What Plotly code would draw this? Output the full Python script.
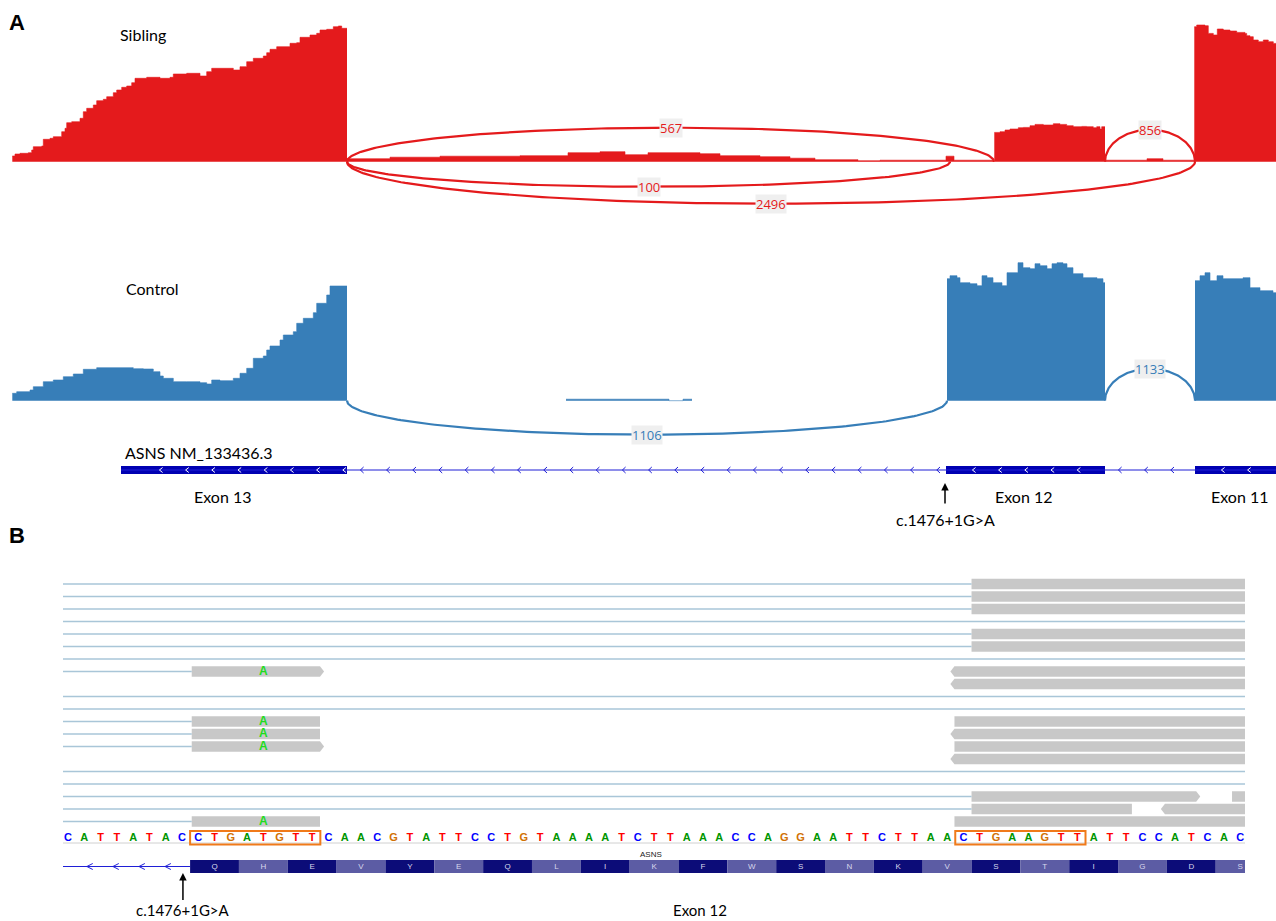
import numpy as np
import plotly.graph_objects as go

# ---------------------------------------------------------------
# Panel A: sashimi plot (track coordinate, 1 unit per screen column)
# ---------------------------------------------------------------
EXON_STARTS = [121, 946, 1195]          # exon 13, exon 12, exon 11
EXON_ENDS = [347, 1105, 1276]
EXON_NAMES = ["Exon 13", "Exon 12", "Exon 11"]
EXON_LABEL_POS = [223, 1024, 1240]
VARIANT_POS = 945
VARIANT_LABEL = "c.1476+1G>A"
GENE_LABEL = "ASNS NM_133436.3"

# Sibling coverage (depth, arbitrary units)
SIB_EX13_POS = [12.3, 15, 20, 28.3, 31.7, 33.3, 41.7, 43.3, 50, 53.3, 61.7, 65, 66.7, 71.7, 80, 83.3,
                86.7, 93.3, 96.7, 103.3, 106.7, 113.3, 116.7, 121.7, 126.7, 131.7, 135, 146.7, 160, 170,
                173.3, 186.7, 200, 206.7, 211.7, 226.7, 233.3, 240, 246.7, 253.3, 263.3, 266.7, 270,
                276.7, 290, 296.7, 300, 310, 316.7, 320, 326.7, 333.3, 338.3, 341.7]
SIB_EX13_DEPTH = [5.7, 7.7, 8.4, 9, 11.7, 15, 15.7, 22.4, 23.4, 25, 30, 33.4, 39, 40, 43.4, 50,
                  53.4, 56.7, 61, 62.4, 65, 69, 71.7, 74.4, 75.7, 79, 83.4, 84.4, 83.4, 84.4,
                  87.7, 88.4, 85.7, 90, 93.4, 93.4, 91.7, 95, 100, 103.4, 105.7, 109, 112.4,
                  115, 118.4, 119, 124.4, 126.7, 128.4, 131.7, 132.4, 135, 135.7, 133.4]
SIB_INTRON_POS = [347, 390, 440, 520, 568, 600, 625, 648, 700, 720, 760, 790, 815, 858, 880, 946, 954]
SIB_INTRON_DEPTH = [3, 4.5, 5.5, 6, 9, 10, 7, 9, 8, 6, 5, 3.5, 2, 1, 1.5, 5.5, 1.5]
SIB_EX12_POS = [994.3, 1000, 1005, 1010, 1018.3, 1023.3, 1030, 1035, 1043.3, 1053.3, 1060, 1066.7,
                1073.3, 1081.7, 1086.7, 1093.3, 1096.7, 1100, 1101.7]
SIB_EX12_DEPTH = [29.3, 30, 31.7, 32.7, 34, 34.3, 36, 37.3, 36.7, 38, 37.3, 36, 35, 35.3, 35, 34, 35,
                  32.7, 35]
SIB_INTRON2_POS = [1105, 1147, 1163]
SIB_INTRON2_DEPTH = [1.5, 3, 1.5]
SIB_EX11_POS = [1194.3, 1196.7, 1205, 1208.3, 1213.3, 1217.3, 1223.3, 1230, 1236.7, 1245, 1246.7,
                1250, 1253.3, 1258.3, 1263.3, 1268.3, 1273.3]
SIB_EX11_DEPTH = [135, 136.7, 136, 128.3, 126.7, 132.7, 131.7, 130.7, 129.3, 128.3, 126, 125, 121.7,
                  120, 121.7, 120, 118.3]

# Control coverage
CTRL_EX13_POS = [12.3, 16.7, 30, 33.3, 43.3, 53.3, 63.3, 73.3, 83.3, 96.7, 120, 133.3, 143.3, 153.3,
                 160, 163.3, 173.3, 186.7, 200, 206.7, 211.7, 220, 233.3, 240, 246.7, 253.3, 263.3,
                 266.7, 270, 280, 283.3, 293.3, 296.7, 303.3, 313.3, 316.7, 326.7, 330]
CTRL_EX13_DEPTH = [7.4, 9, 10.7, 14, 19, 20.7, 24, 26.7, 31.4, 33, 33, 32, 31.7, 29,
                   24.7, 22.4, 19, 19, 18, 16.7, 20.7, 20, 22.4, 27.4, 32.4, 42.4, 44.7,
                   50.7, 54.7, 60.7, 65.7, 69, 77.4, 82.4, 88, 97.4, 105.7, 114.7]
CTRL_INTRON_POS = [566, 669, 683]
CTRL_INTRON_DEPTH = [1.5, 0, 1.5]
CTRL_EX12_POS = [947, 950, 957, 960, 970, 977, 982, 987, 993, 1002, 1007, 1013, 1018, 1023, 1030,
                 1035, 1040, 1047, 1052, 1057, 1063, 1067, 1073, 1083, 1097, 1103]
CTRL_EX12_DEPTH = [122, 125, 123, 118, 117, 115, 125, 123, 118, 115, 128, 128, 138, 133, 132,
                   137, 135, 132, 137, 138, 137, 133, 127, 123, 122, 118]
CTRL_EX11_POS = [1195, 1200, 1205, 1210, 1217, 1223, 1230, 1243, 1250, 1260, 1273]
CTRL_EX11_DEPTH = [120, 125, 128, 120, 125, 122, 122, 123, 113, 110, 108]

# Splice junctions: start, end, supporting reads
SIB_JUNC_START = [347, 347, 347, 1105]
SIB_JUNC_END = [994, 950, 1195, 1195]
SIB_JUNC_COUNT = [567, 100, 2496, 856]
CTRL_JUNC_START = [347, 1105]
CTRL_JUNC_END = [947, 1195]
CTRL_JUNC_COUNT = [1106, 1133]

# ---------------------------------------------------------------
# Panel B: read alignments (base coordinates, 0 = first base shown)
# ---------------------------------------------------------------
REF_SEQ = "CATTATACCTGATGTTCAACGTATTCCTGTAAAATCTTAAACCAGGAATTCTTAACTGAAGTTATTCCATCAC"
CODONS = list("QHEVYEQLIKFWSNKVSTIGDS")
CODING_START = 7.5
BOXED_START = [7.5, 54.5]
BOXED_END = [15.5, 62.5]

BLOCK_ROW = [0, 1, 2, 4, 5, 7, 7, 8, 11, 11, 12, 12, 13, 13, 14, 17, 17, 18, 18, 19, 19]
BLOCK_START = [55.5, 55.5, 55.5, 55.5, 55.5, 7.6, 54.45, 54.45, 7.6, 54.45, 7.6, 54.45, 7.6, 54.45,
               54.45, 55.5, 71.5, 55.5, 67.38, 7.6, 54.45]
BLOCK_END = [80, 80, 80, 80, 80, 15.48, 80, 80, 15.48, 80, 15.48, 80, 15.48, 80,
             80, 69.3, 80, 65.35, 80, 15.48, 80]
BLOCK_STRAND = [".", ".", ".", ".", ".", "+", "-", "-", ".", ".", ".", "-", "+", ".",
                "-", "+", ".", ".", "-", ".", "."]
SPLIT_ROW = [0, 1, 2, 3, 4, 5, 6, 7, 9, 10, 11, 12, 13, 15, 16, 17, 18, 19]
SPLIT_START = [-5] * 18
SPLIT_END = [55.5, 55.5, 55.5, 80, 55.5, 55.5, 80, 7.6, 80, 80, 7.6, 7.6, 7.6, 80, 80, 55.5, 55.5, 7.6]
MISMATCH_ROW = [7, 11, 12, 13, 19]
MISMATCH_POS = [12, 12, 12, 12, 12]
MISMATCH_BASE = ["A", "A", "A", "A", "A"]

# ---------------------------------------------------------------
# Styles
# ---------------------------------------------------------------
RED = "#e41a1c"
BLUE = "#377eb8"
GENE = "#0000b2"
GENE_LINE = "#1f1fd6"
LABEL_FONT = "Lato"
BASE_COLORS = {"A": "#009600", "C": "#0000ff", "G": "#d17105", "T": "#ff0000"}
AA_COLORS = ["#0c0c78", "#5c5ca4"]
ARC_HEIGHT = {567: 34, 100: -25, 2496: -42, 856: 32, 1106: -34, 1133: 32}

fig = go.Figure()
annotations = []
shapes = []


def add_coverage(pos, depth, end, color, yaxis):
    x = list(pos) + [end]
    y = list(depth) + [depth[-1]]
    fig.add_trace(go.Scatter(x=x, y=y, mode="lines", xaxis="x", yaxis=yaxis,
                             line=dict(color=color, width=0.6, shape="hv"),
                             fill="tozeroy", fillcolor=color, hoverinfo="skip"))


def add_junctions(starts, ends, counts, color, yaxis):
    t = np.linspace(0, np.pi, 161)
    for s, e, n in zip(starts, ends, counts):
        h = ARC_HEIGHT[n]
        xs = (s + e) / 2 - (e - s) / 2 * np.cos(t)
        ys = h * np.sin(t)
        fig.add_trace(go.Scatter(x=xs, y=ys, mode="lines", xaxis="x", yaxis=yaxis,
                                 line=dict(color=color, width=2.2), hoverinfo="skip"))
        annotations.append(dict(x=(s + e) / 2, y=h, xref="x", yref=yaxis, text=str(n),
                                showarrow=False, bgcolor="#efefef", borderpad=0,
                                font=dict(family="Open Sans", size=13, color=color)))


# Sibling track
add_coverage(SIB_EX13_POS, SIB_EX13_DEPTH, EXON_ENDS[0], RED, "y")
add_coverage(SIB_INTRON_POS, SIB_INTRON_DEPTH, 994, RED, "y")
add_coverage(SIB_EX12_POS, SIB_EX12_DEPTH, EXON_ENDS[1], RED, "y")
add_coverage(SIB_INTRON2_POS, SIB_INTRON2_DEPTH, EXON_STARTS[2], RED, "y")
add_coverage(SIB_EX11_POS, SIB_EX11_DEPTH, EXON_ENDS[2], RED, "y")
add_junctions(SIB_JUNC_START, SIB_JUNC_END, SIB_JUNC_COUNT, RED, "y")

# Control track
add_coverage(CTRL_EX13_POS, CTRL_EX13_DEPTH, EXON_ENDS[0], BLUE, "y2")
add_coverage(CTRL_INTRON_POS, CTRL_INTRON_DEPTH, 692, BLUE, "y2")
add_coverage(CTRL_EX12_POS, CTRL_EX12_DEPTH, EXON_ENDS[1], BLUE, "y2")
add_coverage(CTRL_EX11_POS, CTRL_EX11_DEPTH, EXON_ENDS[2], BLUE, "y2")
add_junctions(CTRL_JUNC_START, CTRL_JUNC_END, CTRL_JUNC_COUNT, BLUE, "y2")

annotations.append(dict(x=118, y=127.7, xref="x", yref="y", text="Sibling", showarrow=False,
                        xanchor="left", font=dict(family=LABEL_FONT, size=16, color="black")))
annotations.append(dict(x=124, y=112.7, xref="x", yref="y2", text="Control", showarrow=False,
                        xanchor="left", font=dict(family=LABEL_FONT, size=16, color="black")))

# Gene model (panel A)
fig.add_trace(go.Scatter(x=[EXON_STARTS[0], EXON_ENDS[-1]], y=[0, 0], mode="lines", xaxis="x", yaxis="y3",
                         line=dict(color=GENE_LINE, width=1), hoverinfo="skip"))
for s, e in zip(EXON_STARTS, EXON_ENDS):
    shapes.append(dict(type="rect", xref="x", yref="y3", x0=s, x1=e, y0=-4, y1=4, layer="below",
                       fillcolor=GENE, line=dict(width=0)))


def chevrons(centres, half_w, half_h, y0=0.0):
    xs, ys = [], []
    for c in centres:
        xs += [c + half_w, c - half_w, c + half_w, None]
        ys += [y0 + half_h, y0, y0 - half_h, None]
    return xs, ys


intron_marks, exon_marks = [], []
for s, e in zip(EXON_STARTS, EXON_ENDS):
    exon_marks += list(np.arange(s + (40 if s == EXON_STARTS[0] else 28), e - 2, 26.2))
for s, e in zip(EXON_ENDS[:-1], EXON_STARTS[1:]):
    intron_marks += list(np.arange(s + 15, e - 2, 26.2))
cx, cy = chevrons(intron_marks, 1.6, 3)
fig.add_trace(go.Scatter(x=cx, y=cy, mode="lines", xaxis="x", yaxis="y3",
                         line=dict(color=GENE_LINE, width=1), hoverinfo="skip"))
cx, cy = chevrons(exon_marks, 1.6, 2.5)
fig.add_trace(go.Scatter(x=cx, y=cy, mode="lines", xaxis="x", yaxis="y3",
                         line=dict(color="white", width=1), hoverinfo="skip"))

annotations.append(dict(x=123, y=18, xref="x", yref="y3", text=GENE_LABEL, showarrow=False,
                        xanchor="left", font=dict(family=LABEL_FONT, size=16, color="black")))
for name, px in zip(EXON_NAMES, EXON_LABEL_POS):
    annotations.append(dict(x=px, y=-26, xref="x", yref="y3", text=name, showarrow=False,
                            font=dict(family=LABEL_FONT, size=16, color="black")))
annotations.append(dict(x=VARIANT_POS, y=-13, ax=VARIANT_POS, ay=-35, xref="x", yref="y3",
                        axref="x", ayref="y3", text="", showarrow=True, arrowhead=2,
                        arrowsize=1, arrowwidth=1.5, arrowcolor="black"))
annotations.append(dict(x=VARIANT_POS, y=-49, xref="x", yref="y3", text=VARIANT_LABEL, showarrow=False,
                        font=dict(family=LABEL_FONT, size=16, color="black")))

# ---------------------------------------------------------------
# Panel B drawing
# ---------------------------------------------------------------
HALF = 0.42
TIP = 0.25

lx, ly = [], []
for r, s, e in zip(SPLIT_ROW, SPLIT_START, SPLIT_END):
    lx += [s, e, None]
    ly += [r, r, None]
fig.add_trace(go.Scatter(x=lx, y=ly, mode="lines", xaxis="x2", yaxis="y4",
                         line=dict(color="#a9c6d8", width=1.3), hoverinfo="skip"))

for r, s, e, st in zip(BLOCK_ROW, BLOCK_START, BLOCK_END, BLOCK_STRAND):
    if st == "+":
        path = (f"M {s},{r - HALF} L {e},{r - HALF} L {e + TIP},{r} L {e},{r + HALF} "
                f"L {s},{r + HALF} Z")
    elif st == "-":
        path = (f"M {s},{r - HALF} L {e},{r - HALF} L {e},{r + HALF} L {s},{r + HALF} "
                f"L {s - TIP},{r} Z")
    else:
        path = (f"M {s},{r - HALF} L {e},{r - HALF} L {e},{r + HALF} L {s},{r + HALF} Z")
    shapes.append(dict(type="path", xref="x2", yref="y4", path=path, layer="below",
                       fillcolor="#c8c8c8", line=dict(width=0)))

fig.add_trace(go.Scatter(x=MISMATCH_POS, y=MISMATCH_ROW, mode="text", text=MISMATCH_BASE,
                         xaxis="x2", yaxis="y4",
                         textfont=dict(family="Liberation Sans", size=12, color="#1edc1e", weight="bold"),
                         hoverinfo="skip"))

# reference sequence
SEQ_ROW = 20.32
fig.add_trace(go.Scatter(x=list(range(len(REF_SEQ))), y=[SEQ_ROW] * len(REF_SEQ), mode="text",
                         text=list(REF_SEQ), xaxis="x2", yaxis="y4",
                         textfont=dict(family="Liberation Sans", size=11, weight="bold",
                                       color=[BASE_COLORS[b] for b in REF_SEQ]),
                         hoverinfo="skip"))
fig.add_trace(go.Scatter(x=[-5, 80], y=[20.72, 20.72], mode="lines", xaxis="x2", yaxis="y4",
                         line=dict(color="#d0d0d0", width=1), hoverinfo="skip"))
for s, e in zip(BOXED_START, BOXED_END):
    shapes.append(dict(type="rect", xref="x2", yref="y4", x0=s, x1=e, y0=19.76, y1=20.84,
                       line=dict(color="#f07a1a", width=2), fillcolor="rgba(0,0,0,0)"))

# translated exon
AA_ROW = 22.6
aa_x = []
for k, aa in enumerate(CODONS):
    x0 = CODING_START + 3 * k
    shapes.append(dict(type="rect", xref="x2", yref="y4", x0=x0, x1=x0 + 3, y0=AA_ROW - 0.52,
                       y1=AA_ROW + 0.52, fillcolor=AA_COLORS[k % 2], line=dict(width=0),
                       layer="below"))
    aa_x.append(x0 + 1.5)
fig.add_trace(go.Scatter(x=aa_x, y=[AA_ROW] * len(CODONS), mode="text", text=CODONS,
                         xaxis="x2", yaxis="y4",
                         textfont=dict(family="Liberation Sans", size=8, color="#d8d8ec"),
                         hoverinfo="skip"))
annotations.append(dict(x=35.8, y=21.6, xref="x2", yref="y4", text="ASNS", showarrow=False,
                        font=dict(family="Liberation Sans", size=8, color="#222222")))

# intron line with strand marks left of the exon
fig.add_trace(go.Scatter(x=[-5, CODING_START], y=[AA_ROW, AA_ROW], mode="lines", xaxis="x2", yaxis="y4",
                         line=dict(color=GENE_LINE, width=1), hoverinfo="skip"))
cx, cy = chevrons(list(np.arange(CODING_START - 1.36, 0, -1.6)), 0.18, 0.24, AA_ROW)
fig.add_trace(go.Scatter(x=cx, y=cy, mode="lines", xaxis="x2", yaxis="y4",
                         line=dict(color=GENE_LINE, width=1), hoverinfo="skip"))

annotations.append(dict(x=7.06, y=23.12, ax=7.06, ay=25.4, xref="x2", yref="y4",
                        axref="x2", ayref="y4", text="", showarrow=True, arrowhead=2,
                        arrowsize=1, arrowwidth=1.5, arrowcolor="black"))
annotations.append(dict(x=7.06, y=26.1, xref="x2", yref="y4", text=VARIANT_LABEL, showarrow=False,
                        font=dict(family=LABEL_FONT, size=15, color="black")))
annotations.append(dict(x=38.8, y=26.1, xref="x2", yref="y4", text="Exon 12", showarrow=False,
                        font=dict(family=LABEL_FONT, size=15, color="black")))

# panel letters
for letter, py in (("A", 22), ("B", 535)):
    annotations.append(dict(x=17 / 1276, y=1 - py / 921, xref="paper", yref="paper", text=f"<b>{letter}</b>",
                            xanchor="center", yanchor="middle", showarrow=False,
                            font=dict(family="Liberation Sans", size=22, color="black")))

W, H = 1276, 921


def dom(top_px, bottom_px):
    return [1 - bottom_px / H, 1 - top_px / H]


hidden = dict(visible=False, fixedrange=True)
fig.update_layout(
    width=W, height=H, margin=dict(l=0, r=0, t=0, b=0),
    paper_bgcolor="white", plot_bgcolor="rgba(0,0,0,0)", showlegend=False,
    xaxis=dict(domain=[0, 1], range=[0, 1276], anchor="y", **hidden),
    yaxis=dict(domain=dom(0, 230), range=[-68.3, 161.7], anchor="x", **hidden),
    yaxis2=dict(domain=dom(240, 450), range=[-49.3, 160.7], anchor="x", **hidden),
    yaxis3=dict(domain=dom(440, 530), range=[-60, 30], anchor="x", **hidden),
    xaxis2=dict(domain=[63 / W, 1245 / W], range=[(63 - 68) / 16.28, (1245 - 68) / 16.28], anchor="y4", **hidden),
    yaxis4=dict(domain=dom(570, 921), range=[(921 - 584) / 12.5, (570 - 584) / 12.5], anchor="x2", **hidden),
    annotations=annotations, shapes=shapes,
)

fig.write_html("out.html", config={"displayModeBar": False})
